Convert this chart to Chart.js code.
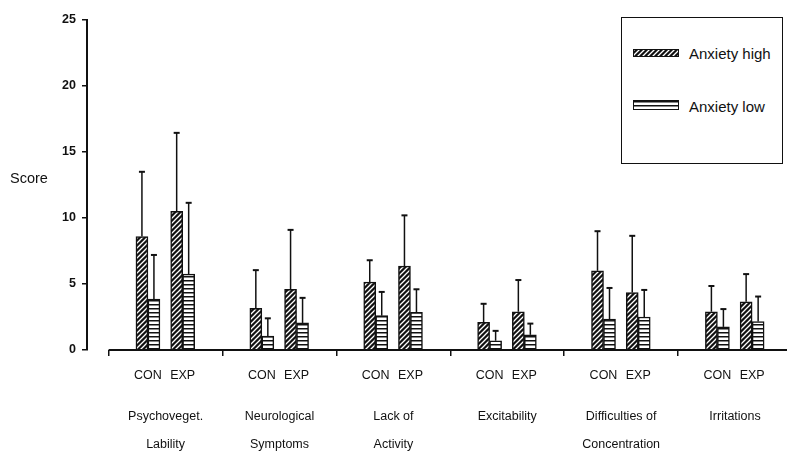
<!DOCTYPE html>
<html lang="en">
<head>
    <meta charset="UTF-8">
    <title>Anxiety scores</title>
    <script src="https://cdn.jsdelivr.net/npm/chart.js"></script>
    <style>
        html, body { margin: 0; padding: 0; background: #fff; overflow: hidden; }
        #wrap { position: relative; width: 787px; height: 459px; overflow: hidden; }
        #chart { position: absolute; left: 0; top: 0; }
        #score {
            position: absolute; left: 10px; top: 170px;
            font: 14.5px 'Liberation Sans', Arial, sans-serif; line-height: 17px; color: #111;
        }
        #legend {
            position: absolute; left: 621px; top: 17px; width: 162px; height: 147px;
            box-sizing: border-box; border: 1.5px solid #111; background: #fff;
        }
        #legend .sw { position: absolute; left: 11px; width: 46px; box-sizing: border-box; border: 1.5px solid #111; }
        #legend .txt {
            position: absolute; left: 67px;
            font: 15px 'Liberation Sans', Arial, sans-serif; line-height: 18px; color: #111;
        }
    </style>
</head>
<body>
<div id="wrap">
    <canvas id="chart" width="792" height="459"></canvas>
    <div id="score">Score</div>
    <div id="legend"></div>
</div>

<script>
    const categories = [
        ['Psychoveget.', 'Lability'],
        ['Neurological', 'Symptoms'],
        ['Lack of', 'Activity'],
        ['Excitability'],
        ['Difficulties of', 'Concentration'],
        ['Irritations']
    ];
    const groups = ['CON', 'EXP'];
    const yTicks = [0, 5, 10, 15, 20, 25];

    // means
    const highCon = [8.6, 3.15, 5.15, 2.1, 6.0, 2.9];
    const highExp = [10.5, 4.6, 6.35, 2.9, 4.35, 3.65];
    const lowCon = [3.85, 1.05, 2.6, 0.7, 2.35, 1.75];
    const lowExp = [5.75, 2.05, 2.85, 1.15, 2.5, 2.15];

    // standard deviations (upper whisker only)
    const highConSd = [4.9, 2.9, 1.65, 1.4, 3.0, 1.95];
    const highExpSd = [5.95, 4.5, 3.85, 2.4, 4.3, 2.1];
    const lowConSd = [3.35, 1.35, 1.8, 0.75, 2.35, 1.35];
    const lowExpSd = [5.4, 1.9, 1.75, 0.85, 2.05, 1.9];

    const groupPos = [0.345, 0.65];   // where CON / EXP sit inside a category
    const xMin = -0.19;               // room between y axis and first category
    const ink = '#111';
    const family = "'Liberation Sans', Arial, sans-serif";

    function pairs(con, exp) {
        const out = [];
        categories.forEach((c, i) => {
            out.push({ x: i + groupPos[0], y: con[i] });
            out.push({ x: i + groupPos[1], y: exp[i] });
        });
        return out;
    }

    function interleave(a, b) {
        const out = [];
        a.forEach((v, i) => { out.push(v); out.push(b[i]); });
        return out;
    }

    function diagonalTile() {
        const c = document.createElement('canvas');
        c.width = c.height = 5;
        const g = c.getContext('2d');
        g.fillStyle = ink;
        g.fillRect(0, 0, 5, 5);
        g.strokeStyle = '#fff';
        g.lineWidth = 1.3;
        g.beginPath();
        g.moveTo(-1, 6); g.lineTo(6, -1);
        g.moveTo(-1, 1); g.lineTo(1, -1);
        g.moveTo(4, 6); g.lineTo(6, 4);
        g.stroke();
        return c;
    }

    function stripeTile() {
        const c = document.createElement('canvas');
        c.width = 4; c.height = 4;
        const g = c.getContext('2d');
        g.fillStyle = '#fff';
        g.fillRect(0, 0, 4, 4);
        g.fillStyle = ink;
        g.fillRect(0, 0, 4, 1.5);
        return c;
    }

    const tiles = { high: diagonalTile(), low: stripeTile() };
    const ctx = document.getElementById('chart').getContext('2d');

    const errorBars = {
        id: 'errorBars',
        afterDatasetsDraw(chart) {
            const c = chart.ctx;
            const y = chart.scales.y;
            chart.data.datasets.forEach((ds, di) => {
                chart.getDatasetMeta(di).data.forEach((bar, j) => {
                    const top = y.getPixelForValue(ds.data[j].y + ds.errors[j]);
                    c.save();
                    c.strokeStyle = ink;
                    c.lineWidth = 1.5;
                    c.beginPath();
                    c.moveTo(bar.x, bar.y);
                    c.lineTo(bar.x, top);
                    c.stroke();
                    c.lineWidth = 2;
                    c.beginPath();
                    c.moveTo(bar.x - 3, top);
                    c.lineTo(bar.x + 3, top);
                    c.stroke();
                    c.restore();
                });
            });
        }
    };

    // x axis line starts at the first category, not at the y axis
    const baseLine = {
        id: 'baseLine',
        afterDatasetsDraw(chart) {
            const c = chart.ctx;
            const x = chart.scales.x;
            const bottom = chart.chartArea.bottom;
            c.save();
            c.strokeStyle = ink;
            c.lineWidth = 2;
            c.beginPath();
            c.moveTo(x.getPixelForValue(0), bottom);
            c.lineTo(x.right, bottom);
            c.stroke();
            c.restore();
        }
    };

    const sharedX = {
        type: 'linear', position: 'bottom', offset: false, bounds: 'data',
        min: xMin, max: categories.length
    };

    const chart = new Chart(ctx, {
        type: 'bar',
        data: {
            datasets: [{
                label: 'Anxiety high',
                data: pairs(highCon, highExp),
                errors: interleave(highConSd, highExpSd),
                backgroundColor: ctx.createPattern(tiles.high, 'repeat'),
                swatch: tiles.high
            }, {
                label: 'Anxiety low',
                data: pairs(lowCon, lowExp),
                errors: interleave(lowConSd, lowExpSd),
                backgroundColor: ctx.createPattern(tiles.low, 'repeat'),
                swatch: tiles.low
            }]
        },
        options: {
            responsive: false,
            animation: false,
            devicePixelRatio: 1,
            layout: { padding: { top: 20, right: 0, bottom: 0, left: 0 } },
            datasets: {
                bar: { barThickness: 12, borderColor: ink, borderWidth: 1.5 }
            },
            plugins: { legend: { display: false }, tooltip: { enabled: false } },
            scales: {
                x: {
                    ...sharedX,
                    weight: 0,
                    afterBuildTicks: s => {
                        s.ticks = categories.map((c, i) => ({ value: i })).concat([{ value: categories.length }]);
                    },
                    ticks: { display: false },
                    grid: { offset: false, drawOnChartArea: false, drawTicks: true, tickLength: 6, color: ink, lineWidth: 1.5 },
                    border: { display: false },
                    afterFit: s => { s.height = 6; }
                },
                xSub: {
                    ...sharedX,
                    weight: 1,
                    afterBuildTicks: s => {
                        const t = [];
                        categories.forEach((c, i) => groupPos.forEach(p => t.push({ value: i + p })));
                        s.ticks = t;
                    },
                    ticks: {
                        autoSkip: false, maxRotation: 0, padding: 12, color: ink,
                        font: { family: family, size: 12.5 },
                        callback: (v, i) => groups[i % groups.length]
                    },
                    grid: { display: false, drawTicks: false, offset: false },
                    border: { display: false },
                    afterFit: s => { s.height = 32; }
                },
                xCat: {
                    ...sharedX,
                    weight: 2,
                    afterBuildTicks: s => {
                        s.ticks = categories.map((c, i) => ({ value: i + 0.5 }));
                    },
                    ticks: {
                        autoSkip: false, maxRotation: 0, padding: 15, color: ink,
                        font: { family: family, size: 12.5, lineHeight: 28 / 12.5 },
                        callback: (v, i) => categories[i]
                    },
                    grid: { display: false, drawTicks: false, offset: false },
                    border: { display: false },
                    afterFit: s => { s.height = 71; }
                },
                y: {
                    min: yTicks[0],
                    max: yTicks[yTicks.length - 1],
                    afterBuildTicks: s => { s.ticks = yTicks.map(v => ({ value: v })); },
                    ticks: { padding: 6, color: ink, font: { family: family, size: 12.5, weight: 'bold' } },
                    grid: { drawOnChartArea: false, drawTicks: true, tickLength: 5, color: ink, lineWidth: 1.5 },
                    border: { color: ink, width: 2 },
                    afterFit: s => { s.width = 87; }
                }
            }
        },
        plugins: [errorBars, baseLine]
    });

    // boxed legend, built from the datasets
    const legend = document.getElementById('legend');
    const rows = [{ swTop: 30.5, swH: 8, txtTop: 26.5 }, { swTop: 81.5, swH: 10, txtTop: 79.5 }];
    chart.data.datasets.forEach((ds, i) => {
        const sw = document.createElement('div');
        sw.className = 'sw';
        sw.style.top = rows[i].swTop + 'px';
        sw.style.height = rows[i].swH + 'px';
        sw.style.backgroundImage = 'url(' + ds.swatch.toDataURL() + ')';
        legend.appendChild(sw);
        const txt = document.createElement('div');
        txt.className = 'txt';
        txt.style.top = rows[i].txtTop + 'px';
        txt.textContent = ds.label;
        legend.appendChild(txt);
    });
</script>
</body>
</html>
